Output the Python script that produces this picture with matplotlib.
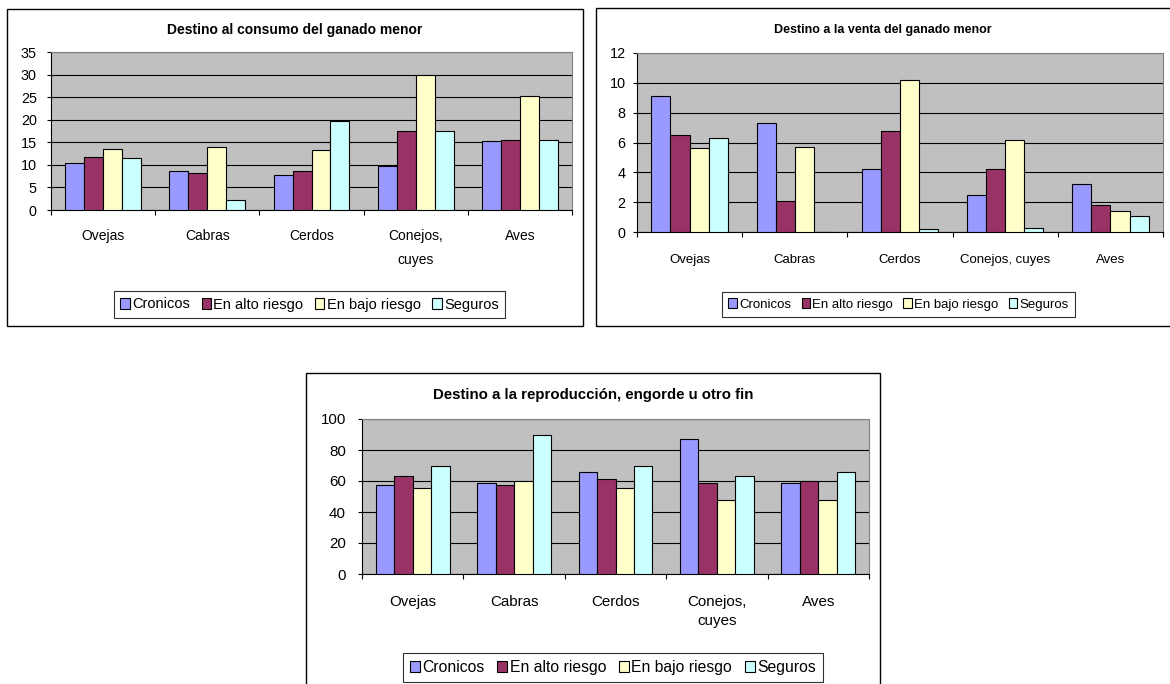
import matplotlib
matplotlib.use("Agg")
import matplotlib.pyplot as plt
from matplotlib.patches import Rectangle, Patch
import numpy as np

# ---- data ----
series_names = ["Cronicos", "En alto riesgo", "En bajo riesgo", "Seguros"]
series_colors = ["#9999FF", "#993366", "#FFFFCC", "#CCFFFF"]

cats_wrapped = ["Ovejas", "Cabras", "Cerdos", "Conejos,\ncuyes", "Aves"]
cats_flat = ["Ovejas", "Cabras", "Cerdos", "Conejos, cuyes", "Aves"]

consumo_cronicos = [10.5, 8.7, 7.8, 9.7, 15.2]
consumo_alto = [11.8, 8.3, 8.7, 17.6, 15.5]
consumo_bajo = [13.6, 14.0, 13.3, 30.0, 25.3]
consumo_seguros = [11.5, 2.2, 19.8, 17.6, 15.5]

venta_cronicos = [9.1, 7.3, 4.2, 2.5, 3.2]
venta_alto = [6.5, 2.1, 6.8, 4.2, 1.8]
venta_bajo = [5.6, 5.7, 10.2, 6.2, 1.4]
venta_seguros = [6.3, 0.0, 0.2, 0.3, 1.1]

repro_cronicos = [57.5, 58.5, 65.5, 87.0, 58.5]
repro_alto = [63.5, 57.5, 61.0, 59.0, 60.0]
repro_bajo = [55.5, 60.0, 55.5, 47.5, 47.5]
repro_seguros = [70.0, 90.0, 70.0, 63.0, 65.5]

titles = ["Destino al consumo del ganado menor",
          "Destino a la venta del ganado menor",
          "Destino a la reproducción, engorde u otro fin"]

plt.rcParams["font.family"] = ["Liberation Sans", "DejaVu Sans"]

W, H = 1170, 684
fig = plt.figure(figsize=(W / 100, H / 100), dpi=100)


def fx(x):
    return x / W


def fy(y):
    return 1 - y / H


def frame(x0, y0, x1, y1):
    fig.patches.append(Rectangle((fx(x0), fy(y1)), fx(x1) - fx(x0), fy(y0) - fy(y1),
                                 transform=fig.transFigure, fill=False,
                                 edgecolor="black", linewidth=1.0, zorder=0))


def panel(box, data, cats, ymax, ystep, fs, fs_y, fs_leg, ypad, xpad, lsp,
          title, title_xy, title_fs, leg_xy, leg_loc, colsp):
    x0, y0, x1, y1 = box
    ax = fig.add_axes([fx(x0), fy(y1), fx(x1) - fx(x0), fy(y0) - fy(y1)])
    ax.set_facecolor("#C0C0C0")
    n = len(data)
    group = n / (n + 1.5)
    w = group / n
    x = np.arange(len(cats))
    for i, (vals, col) in enumerate(zip(data, series_colors)):
        ax.bar(x + (i - (n - 1) / 2) * w, vals, width=w, color=col,
               edgecolor="black", linewidth=0.8, zorder=3)
    ax.set_xlim(-0.5, len(cats) - 0.5)
    ax.set_ylim(0, ymax)
    ax.set_yticks(np.arange(0, ymax + ystep / 2, ystep))
    ax.yaxis.grid(True, color="black", linewidth=0.8)
    ax.set_axisbelow(True)
    ax.set_xticks(np.arange(-0.5, len(cats), 1.0))
    ax.set_xticklabels([])
    ax.set_xticks(x, minor=True)
    ax.set_xticklabels(cats, minor=True, fontsize=fs, linespacing=lsp)
    ax.tick_params(axis="x", which="major", direction="out", length=3.6,
                   width=0.8, color="black")
    ax.tick_params(axis="x", which="minor", length=0, pad=xpad)
    ax.tick_params(axis="y", direction="out", length=3.2, width=0.8,
                   labelsize=fs_y, pad=ypad)
    for s in ("top", "right"):
        ax.spines[s].set_color("#808080")
        ax.spines[s].set_linewidth(0.8)
    for s in ("left", "bottom"):
        ax.spines[s].set_color("black")
        ax.spines[s].set_linewidth(0.8)

    fig.text(fx(title_xy[0]), fy(title_xy[1]), title, ha="center", va="center",
             fontsize=title_fs, fontweight="bold")

    handles = [Patch(facecolor=c, edgecolor="black", linewidth=0.8) for c in series_colors]
    leg = fig.legend(handles, series_names, loc=leg_loc, ncol=4,
                     bbox_to_anchor=(fx(leg_xy[0]), fy(leg_xy[1])),
                     bbox_transform=fig.transFigure, fontsize=fs_leg,
                     handlelength=0.65, handleheight=0.7, handletextpad=0.15,
                     columnspacing=colsp, borderpad=0.45, frameon=True,
                     fancybox=False, borderaxespad=0)
    leg.get_frame().set_edgecolor("black")
    leg.get_frame().set_linewidth(0.8)
    return ax


# outer frames around each chart
frame(7, 9, 583, 326)
frame(596, 8, 1175, 326)
frame(306, 373, 880, 700)

panel((51, 52, 572, 210),
      [consumo_cronicos, consumo_alto, consumo_bajo, consumo_seguros],
      cats_wrapped, 35, 5, 10, 10.4, 10.5, 7, 14, 1.9,
      titles[0], (295, 30), 10, (309.5, 304.5), "center", 0.8)

panel((637, 53, 1163, 232),
      [venta_cronicos, venta_alto, venta_bajo, venta_seguros],
      cats_flat, 12, 2, 9.5, 10.4, 9.5, 5, 16, 1.2,
      titles[1], (883, 30.5), 9, (898.5, 304.5), "center", 0.8)

panel((362, 419, 869, 574),
      [repro_cronicos, repro_alto, repro_bajo, repro_seguros],
      cats_wrapped, 100, 20, 10.9, 10.9, 11.3, 8.4, 15, 1.5,
      titles[2], (593, 395.5), 10.8, (612.8, 653), "upper center", 0.8)

fig.savefig("out.png", dpi=100)
